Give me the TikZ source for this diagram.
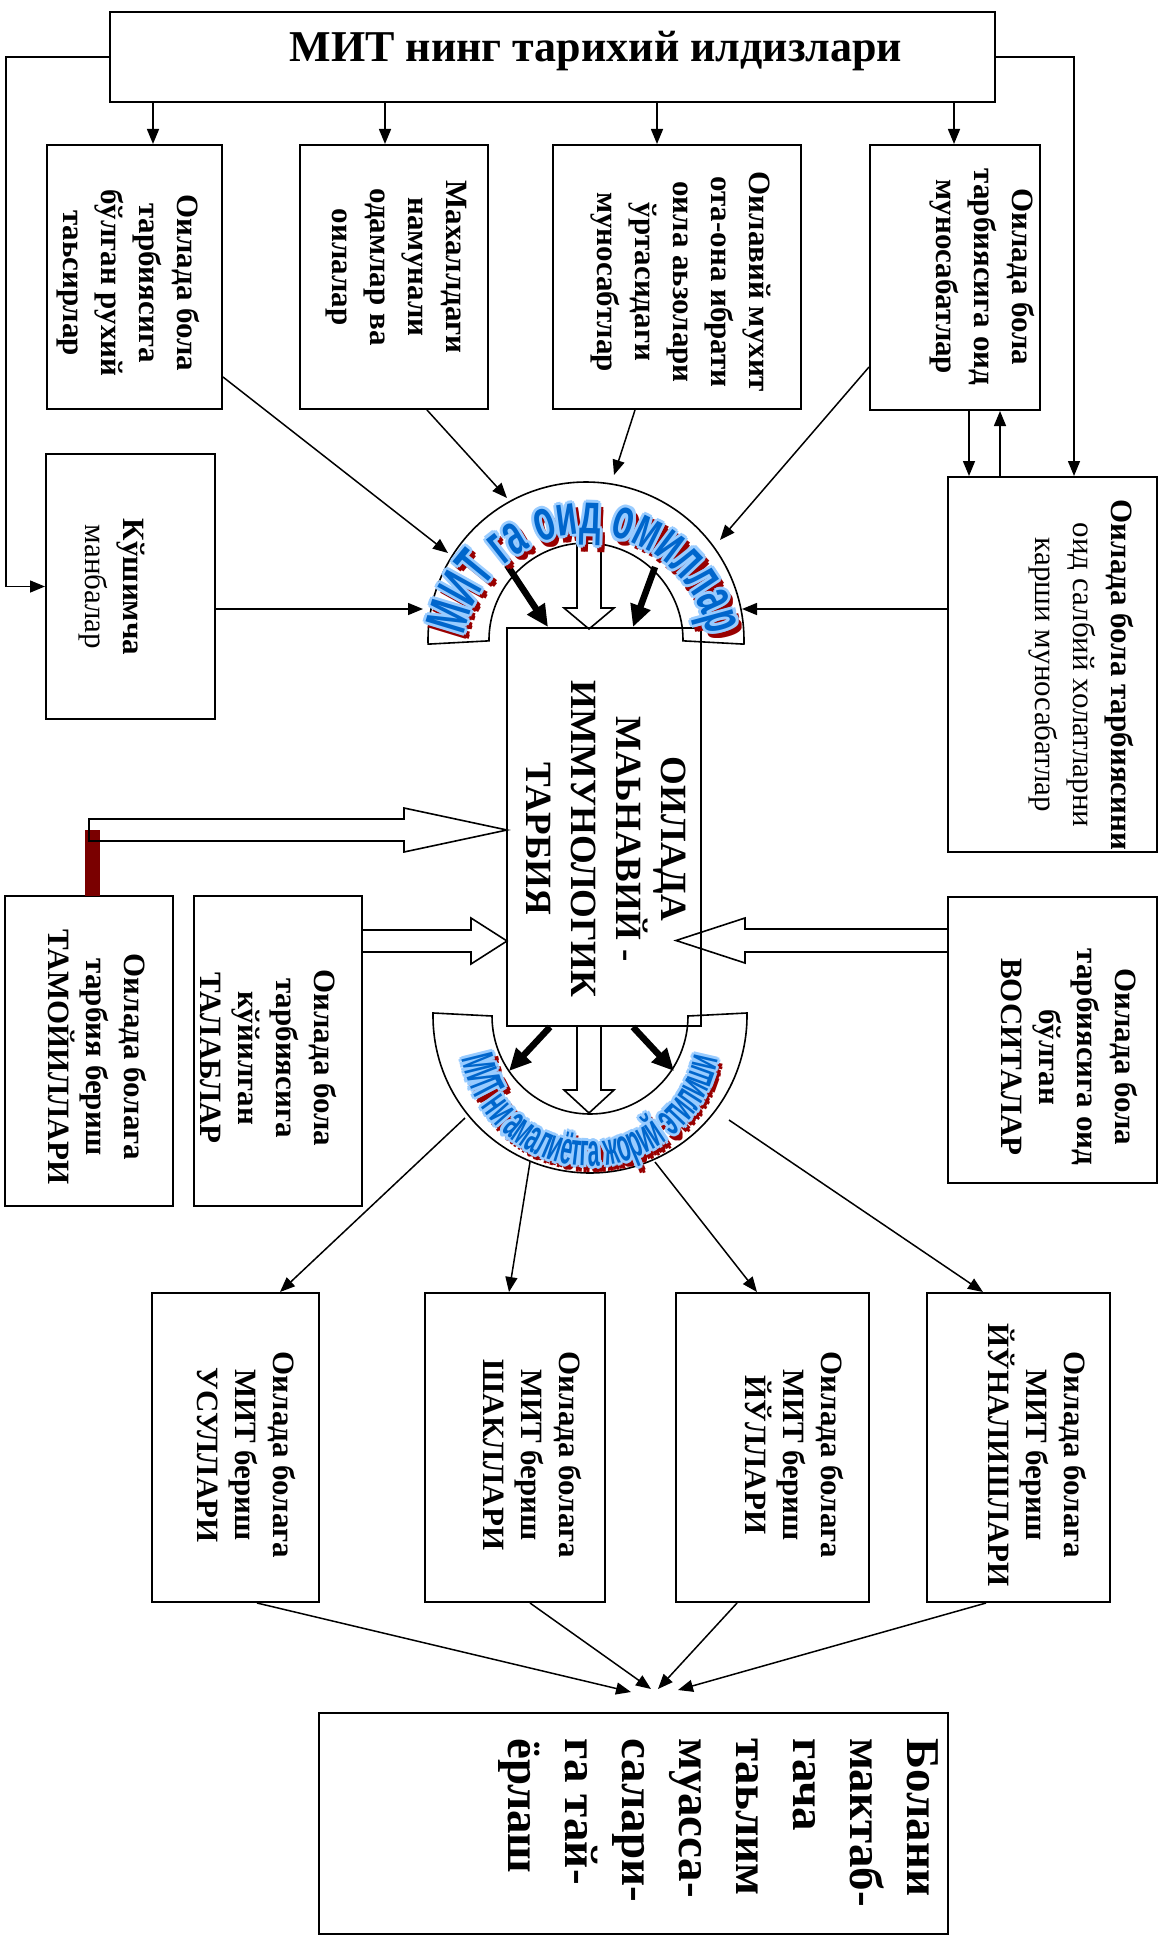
\documentclass[tikz,border=0pt]{standalone}
\usepackage{fontspec}
\setmainfont{Liberation Serif}
\newfontfamily\waA[FakeStretch=0.58]{Liberation Sans}
\newfontfamily\waB[FakeStretch=0.46]{Liberation Sans}
\usetikzlibrary{arrows.meta,decorations.text}
\definecolor{wablue}{HTML}{0066CC}
\definecolor{waglow}{HTML}{99CCFF}
\definecolor{wared}{HTML}{990000}
\definecolor{barred}{HTML}{7A0000}
\tikzset{
 box/.style={draw, line width=2pt, inner sep=0pt},
 lbl/.style={rotate=-90, align=center, inner sep=0pt, font=\bfseries\fontsize{31}{38}\selectfont},
 arr/.style={-{Triangle[width=12pt,length=15pt]}, line width=1.5pt},
 tarr/.style={-{Triangle[width=20pt,length=22pt]}, line width=6.5pt},
 blk/.style={draw, line width=1.6pt, line join=miter},
 band/.style={draw, line width=1.6pt},
}
\newcommand\wordart[6]{%
 \foreach \dx/\dy in {4/-5,2.5/-3.5,5.5/-6.5,5.5/-3.5,2.5/-6.5}{%
  \path[shift={({#1+\dx},{#2+\dy})},decorate,decoration={text along path,text color=wared,text align=center,text={#6}}] (#4:#3) arc[start angle=#4,end angle=#5,radius=#3];}%
 \foreach \dx/\dy in {3/0,-3/0,0/3,0/-3,2.1/2.1,-2.1/2.1,2.1/-2.1,-2.1/-2.1}{%
  \path[shift={({#1+\dx},{#2+\dy})},decorate,decoration={text along path,text color=waglow,text align=center,text={#6}}] (#4:#3) arc[start angle=#4,end angle=#5,radius=#3];}%
 \path[shift={(#1,#2)},decorate,decoration={text along path,text color=wablue,text align=center,text={#6}}] (#4:#3) arc[start angle=#4,end angle=#5,radius=#3];%
}
\begin{document}
\begin{tikzpicture}[x=1pt,y=1pt]
\useasboundingbox (0,0) rectangle (1165,-1940);
\fill[white] (0,0) rectangle (1165,-1940);

% boxes
\node[box, minimum width=885pt, minimum height=90pt] (top) at (552.5,-57) {};
\node[font=\bfseries\fontsize{44}{44}\selectfont, inner sep=0pt] (title) at (596,-51) {МИТ нинг тарихий илдизлари};
\node[box, minimum width=175pt, minimum height=264pt] (A) at (134.5,-277) {};
\node[box, minimum width=188pt, minimum height=264pt] (B) at (394,-277) {};
\node[box, minimum width=248pt, minimum height=264pt] (C) at (677,-277) {};
\node[box, minimum width=170pt, minimum height=265pt] (D) at (955,-277.5) {};
\node[box, minimum width=209pt, minimum height=375pt] (E) at (1052.5,-664.5) {};
\node[box, minimum width=169pt, minimum height=265pt] (K) at (130.5,-586.5) {};
\node[box, minimum width=194pt, minimum height=398pt] (M) at (604,-827) {};
\node[box, minimum width=168pt, minimum height=310pt] (T) at (89,-1051) {};
\node[box, minimum width=168pt, minimum height=310pt] (R) at (278,-1051) {};
\node[box, minimum width=209pt, minimum height=286pt] (V) at (1052.5,-1040) {};
\node[box, minimum width=167pt, minimum height=309pt] (P1) at (235.5,-1447.5) {};
\node[box, minimum width=180pt, minimum height=309pt] (P2) at (515,-1447.5) {};
\node[box, minimum width=193pt, minimum height=309pt] (P3) at (772.5,-1447.5) {};
\node[box, minimum width=183pt, minimum height=309pt] (P4) at (1018.5,-1447.5) {};
\node[box, minimum width=629pt, minimum height=221pt] (F) at (633.5,-1823.5) {};

% texts
\node[lbl] (At) at (128,-283) {Оилада бола\\тарбиясига\\бўлган рухий\\таьсирлар};
\node[lbl] (Bt) at (396,-267) {Махаллдаги\\намунали\\одамлар ва\\оилалар};
\node[lbl] (Ct) at (681,-282) {Оилавий мухит\\ота-она ибрати\\оила аьзолари\\ўртасидаги\\муносабтлар};
\node[lbl] (Dt) at (982,-277) {Оилада бола\\тарбиясига оид\\муносабатлар};
\node[lbl] (Kt) at (112,-587) {Кўшимча\\{\mdseries манбалар}};
\node[lbl] (Et) at (1081,-675) {Оилада бола тарбиясини\\{\mdseries оид салбий холатларни}\\{\mdseries карши муносабатлар}};
\node[lbl, font=\bfseries\fontsize{37}{45}\selectfont] (Mt) at (606,-839) {ОИЛАДА\\МАЬНАВИЙ -\\ИММУНОЛОГИК\\ТАРБИЯ};
\node[lbl] (Tt) at (97,-1057) {Оилада болага\\тарбия бериш\\ТАМОЙИЛЛАРИ};
\node[lbl] (Rt) at (268,-1058) {Оилада бола\\тарбиясига\\кўйилган\\ТАЛАБЛАР};
\node[lbl] (Vt) at (1069,-1057) {Оилада бола\\тарбиясига оид\\бўлган\\ВОСИТАЛАР};
\node[lbl] (P1t) at (246,-1455) {Оилада болага\\МИТ бериш\\УСУЛЛАРИ};
\node[lbl] (P2t) at (532,-1455) {Оилада болага\\МИТ бериш\\ШАКЛЛАРИ};
\node[lbl] (P3t) at (794,-1455) {Оилада болага\\МИТ бериш\\ЙЎЛЛАРИ};
\node[lbl] (P4t) at (1037,-1455) {Оилада болага\\МИТ бериш\\ЙЎНАЛИШЛАРИ};
\node[lbl, align=left, anchor=north west, font=\bfseries\fontsize{47}{57}\selectfont] (Ft) at (938,-1738) {Болани\\мактаб-\\гача\\таьлим\\муасса-\\салари-\\га тай-\\ёрлаш};

% arc bands
\coordinate (uc) at (586,-640);
\coordinate (lcen) at (590,-1016);
\draw[band] ([shift={(181.5:158)}]uc) arc[start angle=181.5,end angle=-1.5,radius=158] -- ([shift={(-0.5:97)}]uc) arc[start angle=-0.5,end angle=180.5,radius=97] -- cycle;
\draw[band] ([shift={(178.9:157)}]lcen) arc[start angle=178.9,end angle=361.1,radius=157] -- ([shift={(0:98)}]lcen) arc[start angle=0,end angle=-180,radius=98] -- cycle;

% connectors from title
\coordinate (lcor) at (6,-57);
\draw[arr] (top.west) -- (lcor) |- (K.west);
\coordinate (rcor) at (1074,-57);
\draw[arr] (top.east) -- (rcor) -- (rcor |- E.north);
\draw[arr] ([xshift=18.5pt]A.north |- top.south) -- ([xshift=18.5pt]A.north);
\draw[arr] ([xshift=-9pt]B.north |- top.south) -- ([xshift=-9pt]B.north);
\draw[arr] ([xshift=-20pt]C.north |- top.south) -- ([xshift=-20pt]C.north);
\draw[arr] ([xshift=-1pt]D.north |- top.south) -- ([xshift=-1pt]D.north);
\draw[arr] ([xshift=14pt]D.south) -- ([xshift=14pt]D.south |- E.north);
\draw[arr] ([xshift=45pt]D.south |- E.north) -- ([xshift=45pt]D.south);

% into upper arc
\coordinate (ua1) at (448,-553);
\coordinate (ua2) at (507,-498);
\coordinate (ua3) at (614,-475);
\coordinate (ua4) at (720,-540);
\coordinate (ua5) at (742,-609);
\coordinate (ua6) at (423,-609);
\draw[arr] ([yshift=-100pt]A.east) -- (ua1);
\draw[arr] ([xshift=33pt]B.south) -- (ua2);
\draw[arr] ([xshift=-42pt]C.south) -- (ua3);
\draw[arr] ([yshift=-89.5pt]D.west) -- (ua4);
\draw[arr] ([yshift=55.5pt]E.west) -- (ua5);
\draw[arr] ([yshift=-22.5pt]K.east) -- (ua6);

% thick arrows
\coordinate (ut1) at (507,-565);
\coordinate (ut2) at (655,-567);
\draw[tarr] (ut1) -- ([xshift=-56pt]M.north);
\draw[tarr] (ut2) -- ([xshift=29pt]M.north);
\coordinate (lt1) at (509,-1071);
\coordinate (lt2) at (674,-1071);
\draw[tarr] ([xshift=-54pt]M.south) -- (lt1);
\draw[tarr] ([xshift=29pt]M.south) -- (lt2);

% hollow block arrows
\draw[blk] (577,-543) -- (577,-608) -- (564,-608) -- (589,-629) -- (614,-608) -- (601,-608) -- (601,-543);
\draw[blk] (577,-1026) -- (577,-1090) -- (564,-1090) -- (589,-1113) -- (614,-1090) -- (601,-1090) -- (601,-1026);
\fill[barred] (85,-830) rectangle (100,-896);
\draw[blk] (89,-819) -- (404,-819) -- (404,-808) -- (507,-830) -- (404,-852) -- (404,-841) -- (89,-841) -- cycle;
\draw[blk] (362,-930) -- (471,-930) -- (471,-918) -- (507,-941) -- (471,-964) -- (471,-952) -- (362,-952);
\draw[blk] (948,-929) -- (745,-929) -- (745,-918) -- (676,-940.5) -- (745,-963) -- (745,-952) -- (948,-952);

% lower arc to bottom boxes
\coordinate (lo1) at (465,-1118);
\coordinate (lo2) at (530,-1162);
\coordinate (lo3) at (655,-1162);
\coordinate (lo4) at (729,-1120);
\draw[arr] (lo1) -- ([xshift=44.5pt]P1.north);
\draw[arr] (lo2) -- ([xshift=-6pt]P2.north);
\draw[arr] (lo3) -- ([xshift=-15.5pt]P3.north);
\draw[arr] (lo4) -- ([xshift=-35.5pt]P4.north);

% to final
\coordinate (f1) at (631,-1692);
\coordinate (f2) at (651,-1689);
\coordinate (f3) at (658,-1689);
\coordinate (f4) at (678,-1690);
\draw[arr] ([xshift=21.5pt]P1.south) -- (f1);
\draw[arr] ([xshift=15pt]P2.south) -- (f2);
\draw[arr] ([xshift=-35.5pt]P3.south) -- (f3);
\draw[arr] ([xshift=-32.5pt]P4.south) -- (f4);

% word art
\wordart{586}{-658}{124}{171}{9}{|\waA\bfseries\fontsize{58}{58}\selectfont|МИТ га оид омиллар}
\wordart{590}{-1036}{130}{186}{354}{|\waB\bfseries\fontsize{46}{46}\selectfont|МИТ ни амалиётга жорий этилиши}
\end{tikzpicture}
\end{document}
